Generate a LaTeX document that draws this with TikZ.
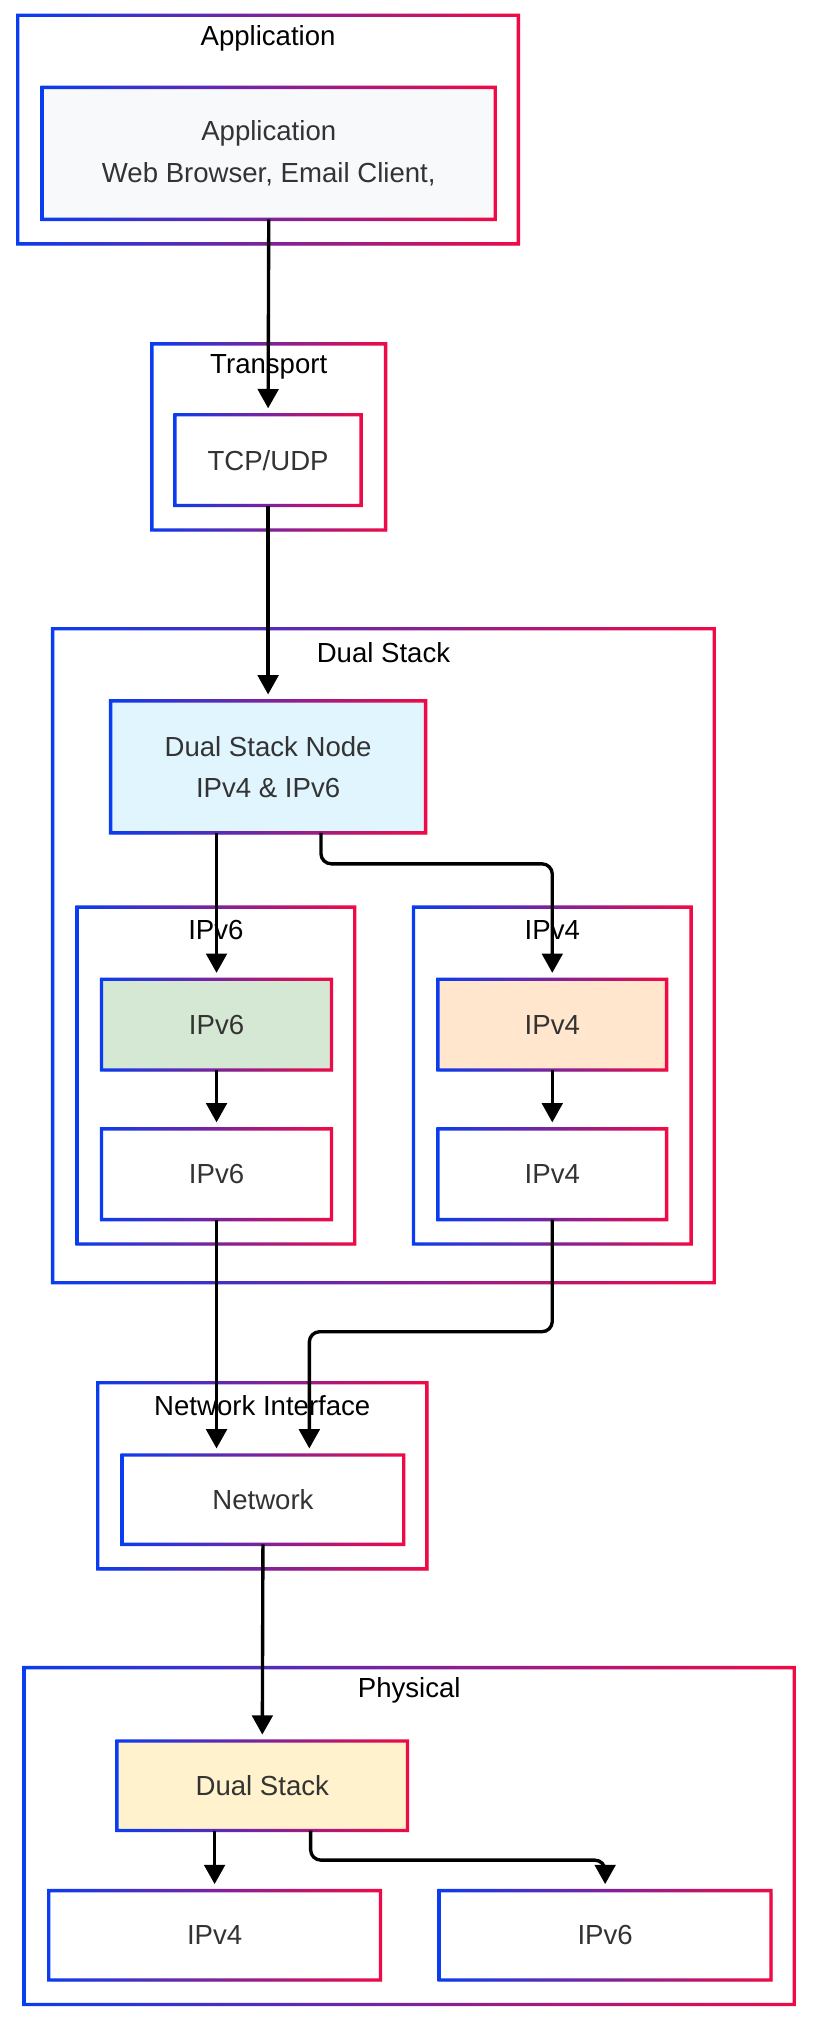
\documentclass[tikz,border=0pt]{standalone}
\usepackage{fontspec}
\setmainfont{Liberation Sans}
\usetikzlibrary{arrows.meta,shadows,calc}
\definecolor{gblue}{HTML}{0A3CF0}
\definecolor{gred}{HTML}{F00A46}
\definecolor{txtgray}{HTML}{333333}
\definecolor{fapp}{HTML}{F8F9FA}
\definecolor{fdsn}{HTML}{E1F5FE}
\definecolor{fsix}{HTML}{D5E8D4}
\definecolor{ffour}{HTML}{FFE6CC}
\definecolor{fpds}{HTML}{FFF2CC}
\newcommand\dfont{\fontsize{21.4}{32}\selectfont}
\newcommand\gborder[1]{%
  \shade[left color=gblue,right color=gred,even odd rule]
    ([shift={(-1.3pt,-1.3pt)}]#1.south west) rectangle ([shift={(1.3pt,1.3pt)}]#1.north east)
    ([shift={(1.3pt,1.3pt)}]#1.south west) rectangle ([shift={(-1.3pt,-1.3pt)}]#1.north east);}
\tikzset{
  shd/.style={drop shadow={shadow xshift=1.5pt,shadow yshift=-1.5pt,fill=black,opacity=0.12}},
  cont/.style={rectangle,fill=white,inner sep=0pt,shd},
  inbox/.style={rectangle,inner sep=0pt,text=txtgray,align=center,font=\dfont,shd},
  ttl/.style={text=black,font=\dfont,inner sep=0pt},
  arr/.style={line width=2.6pt,-{Triangle[length=15pt,width=16pt]},shorten >=5pt},
}
\begin{document}
\begin{tikzpicture}[x=1pt,y=-1pt]
\useasboundingbox (0,0) rectangle (631,1568);
% containers
\node[cont,minimum width=388pt,minimum height=177pt] (appC) at (208,100.5) {};
\gborder{appC}
\node[cont,minimum width=181pt,minimum height=144pt] (trC) at (208.5,339) {};
\gborder{trC}
\node[cont,minimum width=513pt,minimum height=507pt] (dsC) at (297.5,741.5) {};
\gborder{dsC}
\node[cont,minimum width=215pt,minimum height=261pt] (v6C) at (167.5,834.5) {};
\gborder{v6C}
\node[cont,minimum width=215pt,minimum height=261pt] (v4C) at (428.5,834.5) {};
\gborder{v4C}
\node[cont,minimum width=255pt,minimum height=144pt] (niC) at (203.5,1145) {};
\gborder{niC}
\node[cont,minimum width=597pt,minimum height=261pt] (phC) at (317.5,1424.5) {};
\gborder{phC}
% titles
\node[ttl] (appT) at ([yshift=-18pt]appC.north) {Application};
\node[ttl] (trT) at ([yshift=-18pt]trC.north) {Transport};
\node[ttl] (dsT) at ([yshift=-18.5pt]dsC.north) {Dual Stack};
\node[ttl] (v6T) at ([yshift=-18pt]v6C.north) {IPv6};
\node[ttl] (v4T) at ([yshift=-18pt]v4C.north) {IPv4};
\node[ttl] (niT) at ([yshift=-18pt]niC.north) {Network Interface};
\node[ttl] (phT) at ([yshift=-18pt]phC.north) {Physical};
% inner nodes
\node[inbox,fill=fapp,minimum width=351pt,minimum height=102pt] (app) at (208.5,119) {Application\\Web Browser, Email Client,};
\gborder{app}
\node[inbox,fill=white,minimum width=144pt,minimum height=70pt] (tcp) at (208,357) {TCP/UDP};
\gborder{tcp}
\node[inbox,fill=fdsn,minimum width=244pt,minimum height=102pt] (dsn) at (208,595) {Dual Stack Node\\IPv4 \& IPv6};
\gborder{dsn}
\node[inbox,fill=fsix,minimum width=178pt,minimum height=70pt] (v6a) at (168,795) {IPv6};
\gborder{v6a}
\node[inbox,fill=white,minimum width=178pt,minimum height=70pt] (v6b) at (168,911) {IPv6};
\gborder{v6b}
\node[inbox,fill=ffour,minimum width=177pt,minimum height=70pt] (v4a) at (428.5,795) {IPv4};
\gborder{v4a}
\node[inbox,fill=white,minimum width=177pt,minimum height=70pt] (v4b) at (428.5,911) {IPv4};
\gborder{v4b}
\node[inbox,fill=white,minimum width=218pt,minimum height=69pt] (net) at (204,1163.5) {Network};
\gborder{net}
\node[inbox,fill=fpds,minimum width=225pt,minimum height=69pt] (pds) at (203.5,1385.5) {Dual Stack};
\gborder{pds}
\node[inbox,fill=white,minimum width=257pt,minimum height=69pt] (pv4) at (166.5,1501.5) {IPv4};
\gborder{pv4}
\node[inbox,fill=white,minimum width=257pt,minimum height=69pt] (pv6) at (469.5,1501.5) {IPv6};
\gborder{pv6}
% connectors
\draw[arr] (app.south) -- (tcp.north);
\draw[arr] (tcp.south) -- (dsn.north);
\draw[arr] (dsn.south -| v6a.north) -- (v6a.north);
\draw[arr,rounded corners=8pt] ([xshift=41pt]dsn.south) -- ++(0,24) -| (v4a.north);
\draw[arr] (v6a.south) -- (v6b.north);
\draw[arr] (v4a.south) -- (v4b.north);
\draw[arr] (v6b.south) -- (v6b.south |- net.north);
\draw[arr,rounded corners=8pt] (v4b.south) -- ++(0,87) -| ([xshift=36pt]net.north);
\draw[arr] (net.south) -- (pds.north);
\draw[arr] (pds.south -| pv4.north) -- (pv4.north);
\draw[arr,rounded corners=8pt] ([xshift=37.5pt]pds.south) -- ++(0,23) -| (pv6.north);
\end{tikzpicture}
\end{document}
